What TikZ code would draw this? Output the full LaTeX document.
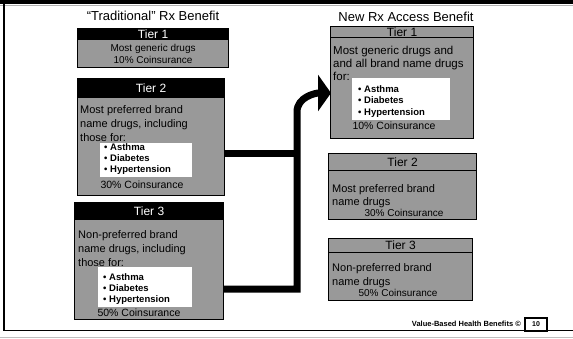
\documentclass[tikz,border=0pt]{standalone}
\usepackage{fontspec}
\setmainfont{Liberation Sans}
\usetikzlibrary{arrows.meta}

\begin{document}
\begin{tikzpicture}[x=1pt,y=-1pt,
    title/.style={font=\fontsize{13}{13}\selectfont,inner sep=0pt},
    tierhead/.style={anchor=north west,inner sep=0pt,draw=black,line width=1.2pt,font=\fontsize{12}{12}\selectfont},
    blackhead/.style={tierhead,fill=black,text=white},
    grayhead/.style={tierhead,fill=black!40},
    tierbody/.style={anchor=north west,inner sep=0pt,draw=black,line width=1.2pt,fill=black!40},
    listbox/.style={anchor=north west,inner sep=0pt,fill=white},
    lines/.style={anchor=north west,inner sep=0pt,align=left,font=\fontsize{11}{14}\selectfont},
    bullets/.style={anchor=north west,inner sep=0pt,align=left,font=\bfseries\fontsize{9.5}{11}\selectfont},
    coins/.style={inner sep=0pt,font=\fontsize{10.5}{10.5}\selectfont},
    flow/.style={line width=7pt,line join=miter}
  ]
  \useasboundingbox (0,0) rectangle (573,338);
  \fill (0,0) rectangle (573,4);
  \draw[gray!60,line width=0.8pt] (0,5.5) -- (573,5.5);
  \draw[line width=2pt] (4,0) -- (4,331);
  \draw[line width=1.5pt] (3,330.5) -- (573,330.5);
  \draw[gray!50,line width=1pt] (0,337) -- (573,337);

  \node[title] (ltitle) at (153,16) {“Traditional” Rx Benefit};
  \node[title] (rtitle) at (406,17) {New Rx Access Benefit};

  \node[blackhead,minimum width=151pt,minimum height=11pt] (lhead1) at (77,28) {Tier 1};
  \node[tierbody,minimum width=151pt,minimum height=28pt,align=center,font=\fontsize{10}{12}\selectfont] (lbody1) at (77,39) {Most generic drugs\\10\% Coinsurance};

  \node[blackhead,minimum width=147pt,minimum height=19pt] (lhead2) at (77,78) {Tier 2};
  \node[tierbody,minimum width=147pt,minimum height=98pt] (lbody2) at (77,97) {};
  \node[lines] (ltext2) at (80,105) {Most preferred brand\\name drugs, including\\those for:};
  \node[listbox,minimum width=92pt,minimum height=34pt] (llist2) at (100,143) {};
  \node[bullets] (lbul2) at (104,143) {• Asthma\\• Diabetes\\• Hypertension};
  \node[coins] (lcoin2) at (142,185) {30\% Coinsurance};

  \node[blackhead,minimum width=149pt,minimum height=17pt] (lhead3) at (74,202) {Tier 3};
  \node[tierbody,minimum width=149pt,minimum height=100pt] (lbody3) at (74,219) {};
  \node[lines] (ltext3) at (78,230) {Non-preferred brand\\name drugs, including\\those for:};
  \node[listbox,minimum width=94pt,minimum height=40pt] (llist3) at (98,267) {};
  \node[bullets] (lbul3) at (103,273) {• Asthma\\• Diabetes\\• Hypertension};
  \node[coins] (lcoin3) at (139,313) {50\% Coinsurance};

  \node[grayhead,minimum width=143pt,minimum height=11pt] (rhead1) at (330,26) {Tier 1};
  \node[tierbody,minimum width=143pt,minimum height=101pt] (rbody1) at (330,37) {};
  \node[lines,font=\fontsize{11.5}{13}\selectfont] (rtext1) at (333,46) {Most generic drugs and\\and all brand name drugs\\for:};
  \node[listbox,minimum width=98pt,minimum height=42pt] (rlist1) at (352,78) {};
  \node[bullets,font=\bfseries\fontsize{9.5}{11.5}\selectfont] (rbul1) at (358,85) {• Asthma\\• Diabetes\\• Hypertension};
  \node[coins] (rcoin1) at (394,126) {10\% Coinsurance};

  \node[grayhead,minimum width=148pt,minimum height=17pt] (rhead2) at (328,153) {Tier 2};
  \node[tierbody,minimum width=148pt,minimum height=49pt] (rbody2) at (328,170) {};
  \node[lines,font=\fontsize{11}{13}\selectfont] (rtext2) at (332,184) {Most preferred brand\\name drugs};
  \node[coins,font=\fontsize{10}{10}\selectfont] (rcoin2) at (404,213) {30\% Coinsurance};

  \node[grayhead,minimum width=144pt,minimum height=14pt] (rhead3) at (328,238) {Tier 3};
  \node[tierbody,minimum width=144pt,minimum height=48pt] (rbody3) at (328,252) {};
  \node[lines,font=\fontsize{11}{14}\selectfont] (rtext3) at (332,263) {Non-preferred brand\\name drugs};
  \node[coins,font=\fontsize{10}{10}\selectfont] (rcoin3) at (398,293) {50\% Coinsurance};

  \coordinate (join2) at (297,153);
  \coordinate (join3) at (297,289);
  \coordinate (bend) at (297,112);
  \coordinate (tip) at (331,93);
  \draw[flow] (lbody2.east |- join2) -- (join2);
  \draw[flow,-{Triangle[length=13pt,width=36pt]}] (lbody3.east |- join3) -- (join3) -- (bend) to[out=90,in=180] (tip);

  \node[font=\bfseries\fontsize{7.5}{7.5}\selectfont,anchor=base east,inner sep=0pt] (footer) at (521,326) {Value-Based Health Benefits ©};
  \node[draw=black,line width=1.2pt,minimum width=22pt,minimum height=13pt,inner sep=0pt,font=\bfseries\fontsize{7}{7}\selectfont] (pageno) at (536,324.5) {10};
\end{tikzpicture}
\end{document}
